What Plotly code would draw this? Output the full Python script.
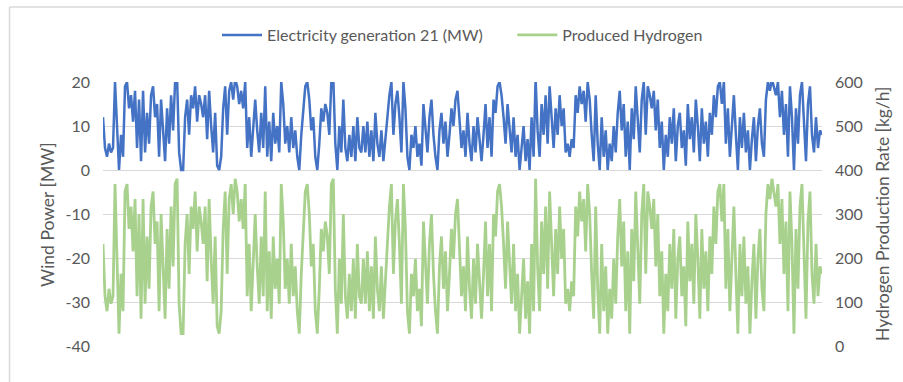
import plotly.graph_objects as go

wind_mw = [
    12, 5, 3, 6, 4, 5, 20, 10, 0, 8,
    3, 19, 20, 14, 17, 11, 18, 5, 16, 2,
    18, 4, 13, 6, 17, 19, 12, 15, 3, 16,
    8, 2, 14, 6, 17, 9, 20, 20.7, 4, 0,
    0, 12, 16, 8, 17, 14, 19, 11, 17, 15,
    12, 17, 7, 18, 10, 4, 13, 1, 0, 3,
    14, 19, 8, 18, 20, 16, 20.7, 19, 15, 18,
    14, 20, 5, 12, 3, 10, 16, 9, 4, 13,
    5, 19, 3, 11, 2, 13, 6, 10, 4, 20,
    15, 6, 10, 4, 12, 5, 9, 3, 0, 8,
    14, 19, 20, 16, 9, 12, 3, 0, 6, 14,
    11, 15, 13, 8, 20, 20.7, 6, 0, 10, 4,
    16, 5, 2, 8, 3, 10, 2, 12, 5, 4,
    10, 4, 11, 3, 9, 2, 13, 6, 3, 9,
    2, 7, 12, 17, 20, 8, 15, 18, 12, 4,
    20, 14, 3, 0, 8, 5, 10, 3, 6, 1,
    15, 10, 4, 12, 16, 8, 3, 0, 9, 13,
    6, 11, 3, 8, 14, 10, 16, 18, 12, 5,
    9, 3, 13, 6, 2, 10, 4, 12, 7, 2,
    8, 15, 5, 12, 3, 16, 13, 19, 20, 17,
    12, 6, 15, 9, 4, 12, 3, 8, 0, 5,
    10, 2, 7, 0, 12, 3, 20.7, 9, 3, 15,
    8, 17, 6, 19, 12, 5, 14, 8, 17, 10,
    14, 4, 6, 3, 7, 5, 17, 13, 19, 15,
    18, 11, 20, 16, 8, 2, 17, 6, 0, 12,
    3, 9, 0, 6, 2, 10, 4, 13, 18, 9,
    15, 3, 11, 0, 14, 7, 19, 12, 4, 16,
    20, 8, 19, 17, 14, 18, 9, 16, 5, 11,
    0, 8, 3, 12, 6, 14, 2, 10, 13, 5,
    9, 1, 15, 7, 12, 4, 16, 10, 2, 14,
    6, 11, 3, 13, 8, 17, 12, 19, 20, 15,
    20, 6, 14, 3, 10, 17, 8, 0, 12, 5,
    13, 4, 9, 0, 7, 12, 2, 10, 14, 6,
    3, 16, 20, 18, 20.7, 19, 17, 20, 12, 18,
    8, 15, 3, 19, 12, 0, 14, 6, 17, 20,
    10, 2, 15, 19, 8, 4, 12, 5, 9, 8,
]

hydrogen_kgh = [
    232, 113, 79, 130, 96, 113, 368, 198, 28, 164,
    79, 351, 368, 266, 317, 215, 334, 113, 300, 62,
    334, 96, 249, 130, 317, 351, 232, 283, 79, 300,
    164, 62, 266, 130, 317, 181, 368, 380, 96, 28,
    28, 232, 300, 164, 317, 266, 351, 215, 317, 283,
    232, 317, 147, 334, 198, 96, 249, 45, 28, 79,
    266, 351, 164, 334, 368, 300, 380, 351, 283, 334,
    266, 368, 113, 232, 79, 198, 300, 181, 96, 249,
    113, 351, 79, 215, 62, 249, 130, 198, 96, 368,
    283, 130, 198, 96, 232, 113, 181, 79, 28, 164,
    266, 351, 368, 300, 181, 232, 79, 28, 130, 266,
    215, 283, 249, 164, 368, 380, 130, 28, 198, 96,
    300, 113, 62, 164, 79, 198, 62, 232, 113, 96,
    198, 96, 215, 79, 181, 62, 249, 130, 79, 181,
    62, 147, 232, 317, 368, 164, 283, 334, 232, 96,
    368, 266, 79, 28, 164, 113, 198, 79, 130, 45,
    283, 198, 96, 232, 300, 164, 79, 28, 181, 249,
    130, 215, 79, 164, 266, 198, 300, 334, 232, 113,
    181, 79, 249, 130, 62, 198, 96, 232, 147, 62,
    164, 283, 113, 232, 79, 300, 249, 351, 368, 317,
    232, 130, 283, 181, 96, 232, 79, 164, 28, 113,
    198, 62, 147, 28, 232, 79, 380, 181, 79, 283,
    164, 317, 130, 351, 232, 113, 266, 164, 317, 198,
    266, 96, 130, 79, 147, 113, 317, 249, 351, 283,
    334, 215, 368, 300, 164, 62, 317, 130, 28, 232,
    79, 181, 28, 130, 62, 198, 96, 249, 334, 181,
    283, 79, 215, 28, 266, 147, 351, 232, 96, 300,
    368, 164, 351, 317, 266, 334, 181, 300, 113, 215,
    28, 164, 79, 232, 130, 266, 62, 198, 249, 113,
    181, 45, 283, 147, 232, 96, 300, 198, 62, 266,
    130, 215, 79, 249, 164, 317, 232, 351, 368, 283,
    368, 130, 266, 79, 198, 317, 164, 28, 232, 113,
    249, 96, 181, 28, 147, 232, 62, 198, 266, 130,
    79, 300, 368, 334, 380, 351, 317, 368, 232, 334,
    164, 283, 79, 351, 232, 28, 266, 130, 317, 368,
    198, 62, 283, 351, 164, 96, 232, 113, 181, 164,
]

left_ticks = [20, 10, 0, -10, -20, -30, -40]
left_ticktext = ["20", "10", "0", "-10", "-20", "-30", "-40"]
right_ticks = [0, 100, 200, 300, 400, 500, 600]

hours = list(range(len(wind_mw)))

FONT = "Lato, 'Open Sans', sans-serif"
GRID = "#d9d9d9"
TXT = "#595959"
NB = "\u00a0"

fig = go.Figure()
fig.add_trace(go.Scatter(
    x=hours, y=wind_mw, mode="lines",
    name="Electricity generation 21 (MW)" + NB * 6,
    line=dict(color="#4472C4", width=2.5), yaxis="y",
))
fig.add_trace(go.Scatter(
    x=hours, y=hydrogen_kgh, mode="lines", name="Produced Hydrogen",
    line=dict(color="#A9D18E", width=2.8), yaxis="y2",
))

fig.update_layout(
    width=903, height=382,
    margin=dict(l=103, r=81, t=82, b=36),
    paper_bgcolor="white", plot_bgcolor="white",
    font=dict(family=FONT, size=15, color=TXT),
    showlegend=True,
    legend=dict(orientation="h", x=0.5, xanchor="center", y=1.178, yanchor="middle",
                font=dict(size=16, color=TXT), traceorder="normal",
                itemwidth=40, bgcolor="rgba(0,0,0,0)"),
    xaxis=dict(range=[0, len(wind_mw) - 1], showticklabels=False, showgrid=False,
               zeroline=False, showline=False, ticks=""),
    yaxis=dict(range=[-40, 20], tickvals=left_ticks, ticktext=left_ticktext,
               showgrid=True, gridcolor=GRID,
               gridwidth=1, zeroline=False, showline=False, ticks="",
               tickfont=dict(size=16, color=TXT), ticklabelstandoff=12),
    yaxis2=dict(range=[0, 600], tickvals=right_ticks, overlaying="y", side="right",
                showgrid=False, zeroline=False, showline=False, ticks="",
                tickfont=dict(size=16, color=TXT), ticklabelstandoff=12),
    annotations=[
        dict(text="Wind Power [MW]", xref="paper", yref="paper", x=-0.078, y=0.5,
             textangle=-90, showarrow=False, font=dict(size=17.5, color=TXT),
             xanchor="center", yanchor="middle"),
        dict(text="Hydrogen Production Rate [kg/h]", xref="paper", yref="paper",
             x=1.0834, y=0.5, textangle=-90, showarrow=False,
             font=dict(size=17.5, color=TXT), xanchor="center", yanchor="middle"),
    ],
    shapes=[
        dict(type="line", xref="paper", yref="paper", x0=-0.130, x1=1.2, y0=1.284, y1=1.284,
             line=dict(color="#d9d9d9", width=1.5)),
        dict(type="line", xref="paper", yref="paper", x0=-0.130, x1=-0.130, y0=1.284, y1=-0.2,
             line=dict(color="#d9d9d9", width=1.5)),
    ],
)

fig.write_html("out.html")
